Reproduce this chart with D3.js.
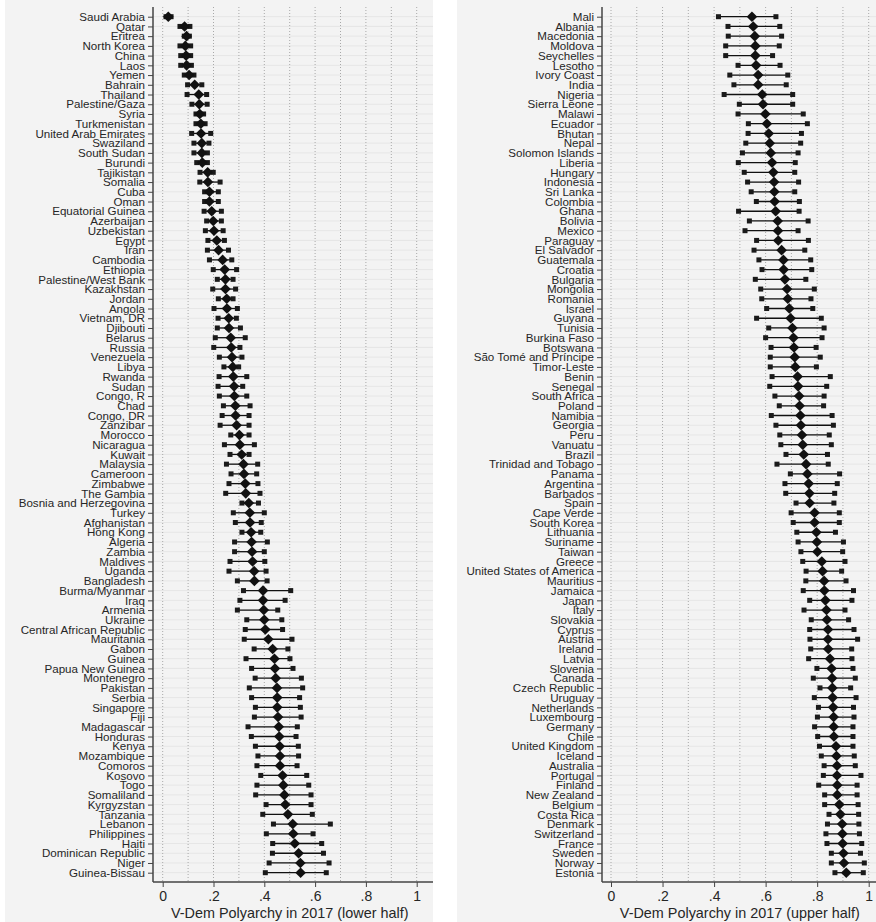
<!DOCTYPE html>
<html>
<head>
<meta charset="utf-8">
<script src="https://cdn.jsdelivr.net/npm/d3@7"></script>
<style>
  html, body { margin: 0; padding: 0; background: #ffffff; }
  svg { display: block; font-family: "Liberation Sans", Arial, Helvetica, sans-serif; }
</style>
</head>
<body>
<svg id="chart" width="876" height="922"></svg>
<script>
// Countries ordered by V-Dem Polyarchy 2017, lower half of the ranking
const lowerCountries = [
  "Saudi Arabia","Qatar","Eritrea","North Korea","China","Laos","Yemen","Bahrain","Thailand",
  "Palestine/Gaza","Syria","Turkmenistan","United Arab Emirates","Swaziland","South Sudan","Burundi",
  "Tajikistan","Somalia","Cuba","Oman","Equatorial Guinea","Azerbaijan","Uzbekistan","Egypt","Iran",
  "Cambodia","Ethiopia","Palestine/West Bank","Kazakhstan","Jordan","Angola","Vietnam, DR","Djibouti",
  "Belarus","Russia","Venezuela","Libya","Rwanda","Sudan","Congo, R","Chad","Congo, DR","Zanzibar",
  "Morocco","Nicaragua","Kuwait","Malaysia","Cameroon","Zimbabwe","The Gambia","Bosnia and Herzegovina",
  "Turkey","Afghanistan","Hong Kong","Algeria","Zambia","Maldives","Uganda","Bangladesh","Burma/Myanmar",
  "Iraq","Armenia","Ukraine","Central African Republic","Mauritania","Gabon","Guinea","Papua New Guinea",
  "Montenegro","Pakistan","Serbia","Singapore","Fiji","Madagascar","Honduras","Kenya","Mozambique",
  "Comoros","Kosovo","Togo","Somaliland","Kyrgyzstan","Tanzania","Lebanon","Philippines","Haiti",
  "Dominican Republic","Niger","Guinea-Bissau"
];
const lowerEstimate = [
  0.022,0.086,0.094,0.089,0.092,0.094,0.104,0.126,0.142,
  0.144,0.146,0.150,0.151,0.154,0.154,0.156,
  0.177,0.178,0.184,0.184,0.193,0.199,0.202,0.213,0.220,
  0.236,0.244,0.247,0.247,0.252,0.253,0.260,0.261,
  0.268,0.270,0.273,0.276,0.278,0.281,0.282,0.286,0.287,0.291,
  0.302,0.304,0.311,0.318,0.320,0.325,0.327,0.339,
  0.343,0.344,0.348,0.350,0.352,0.354,0.360,0.361,0.395,
  0.395,0.398,0.400,0.404,0.416,0.433,0.440,0.442,
  0.445,0.450,0.451,0.451,0.454,0.457,0.459,0.461,0.462,
  0.462,0.472,0.475,0.479,0.483,0.493,0.512,0.514,0.520,
  0.535,0.542,0.543
];
const lowerLow = [
  0.013,0.068,0.085,0.068,0.071,0.071,0.085,0.098,0.096,
  0.115,0.131,0.131,0.114,0.123,0.123,0.134,
  0.147,0.146,0.165,0.165,0.163,0.173,0.168,0.178,0.176,
  0.184,0.199,0.215,0.197,0.219,0.202,0.218,0.215,
  0.207,0.201,0.223,0.241,0.222,0.218,0.223,0.239,0.234,0.226,
  0.268,0.243,0.265,0.251,0.269,0.261,0.248,0.312,
  0.278,0.286,0.312,0.283,0.283,0.265,0.261,0.294,0.318,
  0.304,0.294,0.331,0.325,0.321,0.360,0.328,0.350,
  0.364,0.341,0.350,0.365,0.361,0.336,0.349,0.365,0.375,
  0.371,0.386,0.371,0.366,0.407,0.394,0.436,0.408,0.433,
  0.432,0.419,0.404
];
const lowerHigh = [
  0.033,0.107,0.105,0.110,0.110,0.113,0.123,0.154,0.173,
  0.175,0.161,0.167,0.189,0.182,0.176,0.176,
  0.199,0.226,0.219,0.219,0.231,0.231,0.238,0.243,0.259,
  0.272,0.291,0.277,0.287,0.277,0.294,0.290,0.306,
  0.325,0.304,0.312,0.299,0.331,0.315,0.331,0.344,0.340,0.340,
  0.340,0.361,0.340,0.374,0.370,0.375,0.383,0.377,
  0.400,0.388,0.386,0.412,0.400,0.402,0.407,0.411,0.504,
  0.482,0.453,0.469,0.472,0.509,0.493,0.501,0.513,
  0.546,0.551,0.539,0.542,0.545,0.530,0.525,0.534,0.535,
  0.529,0.567,0.575,0.584,0.584,0.589,0.660,0.592,0.626,
  0.633,0.655,0.644
];

// Upper half of the ranking
const upperCountries = [
  "Mali","Albania","Macedonia","Moldova","Seychelles","Lesotho","Ivory Coast","India","Nigeria",
  "Sierra Leone","Malawi","Ecuador","Bhutan","Nepal","Solomon Islands","Liberia","Hungary","Indonesia",
  "Sri Lanka","Colombia","Ghana","Bolivia","Mexico","Paraguay","El Salvador","Guatemala","Croatia",
  "Bulgaria","Mongolia","Romania","Israel","Guyana","Tunisia","Burkina Faso","Botswana",
  "São Tomé and Príncipe","Timor-Leste","Benin","Senegal","South Africa","Poland","Namibia","Georgia",
  "Peru","Vanuatu","Brazil","Trinidad and Tobago","Panama","Argentina","Barbados","Spain","Cape Verde",
  "South Korea","Lithuania","Suriname","Taiwan","Greece","United States of America","Mauritius",
  "Jamaica","Japan","Italy","Slovakia","Cyprus","Austria","Ireland","Latvia","Slovenia","Canada",
  "Czech Republic","Uruguay","Netherlands","Luxembourg","Germany","Chile","United Kingdom","Iceland",
  "Australia","Portugal","Finland","New Zealand","Belgium","Costa Rica","Denmark","Switzerland",
  "France","Sweden","Norway","Estonia"
];
const upperEstimate = [
  0.547,0.552,0.558,0.560,0.560,0.563,0.571,0.571,0.587,
  0.590,0.599,0.605,0.612,0.616,0.620,0.625,0.630,0.633,
  0.634,0.635,0.639,0.647,0.648,0.649,0.662,0.669,0.670,
  0.675,0.683,0.686,0.692,0.697,0.704,0.708,0.710,
  0.713,0.715,0.724,0.726,0.730,0.732,0.735,0.737,
  0.741,0.744,0.748,0.757,0.762,0.767,0.770,0.771,0.790,
  0.790,0.797,0.799,0.801,0.818,0.821,0.827,
  0.828,0.832,0.836,0.838,0.842,0.842,0.843,0.850,0.856,0.858,
  0.859,0.860,0.862,0.864,0.864,0.865,0.873,0.875,
  0.877,0.877,0.878,0.878,0.886,0.890,0.897,0.898,
  0.899,0.902,0.904,0.913
];
const upperLow = [
  0.417,0.454,0.455,0.445,0.445,0.493,0.461,0.477,0.439,
  0.498,0.493,0.533,0.532,0.523,0.510,0.494,0.517,0.530,
  0.544,0.564,0.495,0.537,0.520,0.565,0.555,0.574,0.586,
  0.560,0.581,0.585,0.604,0.565,0.612,0.600,0.621,
  0.618,0.618,0.625,0.616,0.636,0.653,0.622,0.640,
  0.655,0.659,0.679,0.644,0.696,0.675,0.678,0.718,0.699,
  0.707,0.721,0.726,0.737,0.744,0.757,0.756,
  0.746,0.771,0.749,0.777,0.771,0.772,0.775,0.767,0.799,0.785,
  0.811,0.789,0.805,0.801,0.790,0.802,0.809,0.816,
  0.827,0.824,0.806,0.829,0.829,0.846,0.840,0.834,
  0.838,0.855,0.855,0.869
];
const upperHigh = [
  0.640,0.655,0.662,0.653,0.627,0.656,0.686,0.680,0.705,
  0.705,0.746,0.762,0.739,0.736,0.726,0.715,0.713,0.728,
  0.713,0.731,0.730,0.765,0.726,0.766,0.752,0.775,0.779,
  0.756,0.789,0.776,0.783,0.816,0.827,0.819,0.796,
  0.812,0.797,0.851,0.837,0.827,0.825,0.858,0.863,
  0.847,0.855,0.840,0.843,0.887,0.878,0.868,0.865,0.886,
  0.886,0.871,0.902,0.899,0.908,0.895,0.912,
  0.941,0.935,0.908,0.922,0.943,0.957,0.934,0.935,0.939,0.948,
  0.930,0.951,0.941,0.943,0.939,0.939,0.939,0.944,
  0.948,0.970,0.955,0.955,0.959,0.961,0.962,0.964,
  0.973,0.968,0.983,0.979
];

const xTickValues = [0, 0.2, 0.4, 0.6, 0.8, 1];
const xTickLabels = ["0", ".2", ".4", ".6", ".8", "1"];
const gridValues = [0, 0.1, 0.2, 0.3, 0.4, 0.5, 0.6, 0.7, 0.8, 0.9, 1];

const svg = d3.select("#chart");

const panels = [
  {
    countries: lowerCountries, est: lowerEstimate, lo: lowerLow, hi: lowerHigh,
    title: "V-Dem Polyarchy in 2017 (lower half)",
    bgLeft: 5, bgRight: 433, axisX: 153, plotRight: 433, xRange: [162.7, 416.7]
  },
  {
    countries: upperCountries, est: upperEstimate, lo: upperLow, hi: upperHigh,
    title: "V-Dem Polyarchy in 2017 (upper half)",
    bgLeft: 457, bgRight: 876, axisX: 602, plotRight: 876, xRange: [611, 868.7]
  }
];

const plotTop = 7;
const plotBottom = 882;
const ink = "#111111";
const textColor = "#262626";

panels.forEach(p => {
  const g = svg.append("g");

  // panel background
  g.append("rect")
    .attr("x", p.bgLeft).attr("y", 0)
    .attr("width", p.bgRight - p.bgLeft).attr("height", 922)
    .attr("fill", "#f3f3f3");

  const x = d3.scaleLinear().domain([0, 1]).range(p.xRange);
  const y = d3.scalePoint().domain(p.countries).range([16.7, 872.7]);

  // horizontal grid at every country row
  g.append("g").selectAll("line").data(p.countries).join("line")
    .attr("x1", p.axisX).attr("x2", p.plotRight)
    .attr("y1", d => y(d)).attr("y2", d => y(d))
    .attr("stroke", "#e6e6e6").attr("stroke-width", 1);

  // dotted vertical grid
  g.append("g").selectAll("line").data(gridValues).join("line")
    .attr("x1", d => x(d)).attr("x2", d => x(d))
    .attr("y1", plotTop).attr("y2", plotBottom)
    .attr("stroke", "#a8a8a8").attr("stroke-width", 1)
    .attr("stroke-dasharray", "1,2");

  // y axis with country labels
  const yAxis = d3.axisLeft(y).tickSize(5).tickPadding(3);
  const ya = g.append("g").attr("transform", `translate(${p.axisX},0)`).call(yAxis);
  ya.select(".domain").remove();
  ya.selectAll(".tick line").attr("stroke", "#444").attr("stroke-width", 1);
  ya.selectAll(".tick text")
    .attr("fill", textColor)
    .style("font-size", "11.6px")
    .style("font-family", "'Liberation Sans', Arial, sans-serif");
  g.append("line")
    .attr("x1", p.axisX).attr("x2", p.axisX)
    .attr("y1", plotTop).attr("y2", plotBottom)
    .attr("stroke", "#444").attr("stroke-width", 1.5);

  // x axis
  const xAxis = d3.axisBottom(x).tickValues(xTickValues)
    .tickFormat((d, i) => xTickLabels[i]).tickSize(5).tickPadding(4);
  const xa = g.append("g").attr("transform", `translate(0,${plotBottom})`).call(xAxis);
  xa.select(".domain").remove();
  xa.selectAll(".tick line").attr("stroke", "#444");
  xa.selectAll(".tick text")
    .attr("fill", textColor)
    .style("font-size", "14px")
    .style("font-family", "'Liberation Sans', Arial, sans-serif");
  g.append("line")
    .attr("x1", p.axisX).attr("x2", p.plotRight)
    .attr("y1", plotBottom).attr("y2", plotBottom)
    .attr("stroke", "#444").attr("stroke-width", 1.5);

  g.append("text")
    .attr("x", (p.xRange[0] + p.xRange[1]) / 2)
    .attr("y", 918)
    .attr("text-anchor", "middle")
    .attr("fill", textColor)
    .style("font-size", "14.4px")
    .text(p.title);

  const rows = p.countries.map((c, i) => ({ c, est: p.est[i], lo: p.lo[i], hi: p.hi[i] }));

  // confidence intervals
  g.append("g").selectAll("line").data(rows).join("line")
    .attr("x1", d => x(d.lo)).attr("x2", d => x(d.hi))
    .attr("y1", d => y(d.c)).attr("y2", d => y(d.c))
    .attr("stroke", ink).attr("stroke-width", 1.3);

  const sq = 5;
  const ends = rows.flatMap(d => [{ c: d.c, v: d.lo }, { c: d.c, v: d.hi }]);
  g.append("g").selectAll("rect").data(ends).join("rect")
    .attr("x", d => x(d.v) - sq / 2).attr("y", d => y(d.c) - sq / 2)
    .attr("width", sq).attr("height", sq)
    .attr("fill", "#1a1a1a");

  // point estimates
  const r = 5.3;
  g.append("g").selectAll("path").data(rows).join("path")
    .attr("d", d => {
      const cx = x(d.est), cy = y(d.c);
      return `M${cx},${cy - r}L${cx + r},${cy}L${cx},${cy + r}L${cx - r},${cy}Z`;
    })
    .attr("fill", ink);
});
</script>
</body>
</html>
